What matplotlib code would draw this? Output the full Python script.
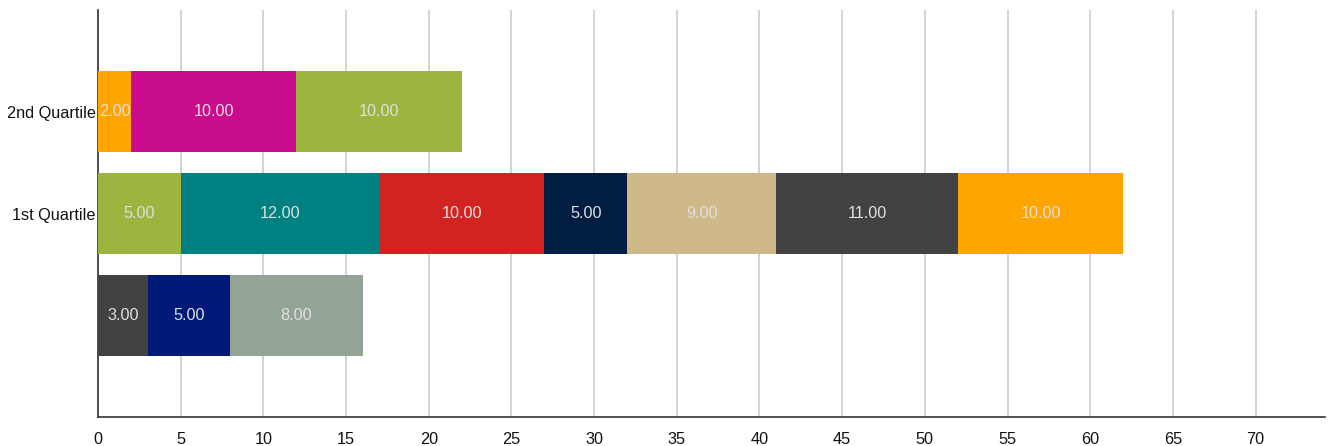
import matplotlib
matplotlib.use("Agg")
import matplotlib.pyplot as plt

# ---- data ----
categories = ["", "1st Quartile", "2nd Quartile"]
row_bottom = [3, 5, 8]
row_q1 = [5, 12, 10, 5, 9, 11, 10]
row_q2 = [2, 10, 10]
x_ticks = list(range(0, 75, 5))

# ---- styles ----
colors_bottom = ["#424242", "#001a78", "#93a395"]
colors_q1 = ["#9bb53e", "#008080", "#d12420", "#021d42", "#cfb989", "#424242", "#fea500"]
colors_q2 = ["#fea500", "#c90c8c", "#9bb53e"]

plt.rcParams['font.family'] = ['Liberation Sans', 'DejaVu Sans']

fig = plt.figure(figsize=(13.33, 4.46), dpi=100)
ax = fig.add_axes([98/1333, 1 - 417/446, (1325 - 98)/1333, (417 - 10)/446])

rows = [row_bottom, row_q1, row_q2]
cols = [colors_bottom, colors_q1, colors_q2]
for yi, (vals, cs) in enumerate(zip(rows, cols)):
    left = 0
    for v, c in zip(vals, cs):
        ax.barh(yi, v, left=left, height=0.8, color=c, zorder=3)
        ax.text(left + v / 2, yi, f"{v:.2f}", ha="center", va="center",
                color="#e0e0e0", fontsize=11.7, zorder=4)
        left += v

ax.set_xlim(0, 74.2)
ax.set_ylim(-1, 3)
ax.set_yticks(range(len(categories)))
ax.set_yticklabels(categories, fontsize=11.7, color="#111111")
ax.set_xticks(x_ticks)
ax.set_xticklabels([str(t) for t in x_ticks], fontsize=11.7, color="#111111")
ax.tick_params(axis="both", length=0)
ax.tick_params(axis="x", pad=11)
ax.tick_params(axis="y", pad=1.5)
ax.grid(axis="x", color="#cccccc", linewidth=1.2, zorder=0)
ax.set_axisbelow(True)
for s in ["top", "right"]:
    ax.spines[s].set_visible(False)
ax.spines["left"].set_color("#333333")
ax.spines["bottom"].set_color("#333333")
ax.spines["left"].set_linewidth(1.2)
ax.spines["bottom"].set_linewidth(1.2)

fig.savefig("out.png", dpi=100)
